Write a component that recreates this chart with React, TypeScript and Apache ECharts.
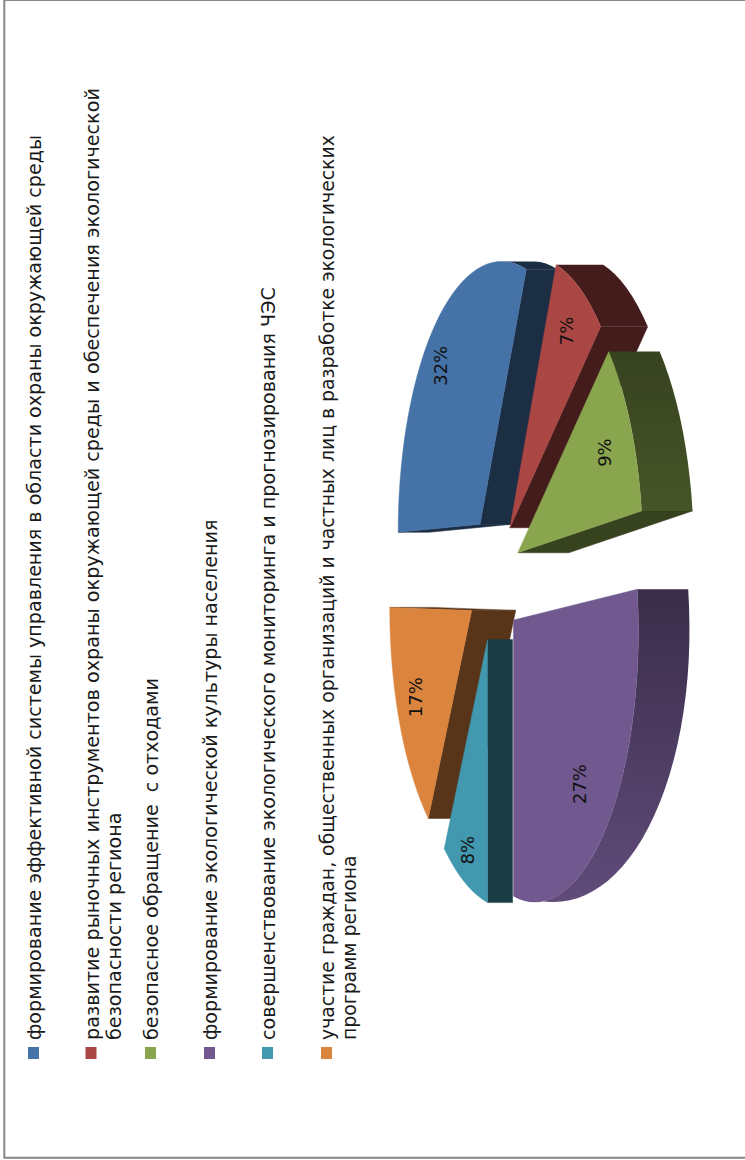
import React, { useEffect, useRef } from "react";
import * as echarts from "echarts";

// ---- data ----
const sliceNames = [
  "формирование эффективной системы управления в области охраны окружающей среды",
  "развитие рыночных инструментов охраны окружающей среды и обеспечения экологической\nбезопасности региона",
  "безопасное обращение  с отходами",
  "формирование экологической культуры населения",
  "совершенствование экологического мониторинга и прогнозирования ЧЭС",
  "участие граждан, общественных организаций и частных лиц в разработке экологических\nпрограмм региона",
];
const sliceValues = [32, 7, 9, 27, 8, 17];

// ---- styles ----
const sliceColors = ["#4572A7", "#AA4643", "#89A54E", "#71588F", "#4198AF", "#DB843D"];
const sliceThickness = [31, 47, 51, 51, 25, 44];
const sliceArcShift = [8, 0, 0, 11, -2, -3];
const sliceLabelRadius = [0.82, 0.82, 0.77, 0.75, 0.87, 0.78];
const legendColumns = [33.5, 91, 150.5, 209.5, 267.5, 326.5];
const legendFontSizes = [19.1, 19.2, 19.1, 19.1, 19.1, 18.83];

const FONT = "DejaVu Sans";
const W = 745;
const H = 1160;

// projection of the rotated, perspective 3D pie
const CX = 494;
const CY = 578;
const RX = 99;
const RY = 265;
const PERSP = 0.208;
const EXPLODE_X = 0.262;
const EXPLODE_Y = 0.24;
const TOTAL = sliceValues.reduce((a, b) => a + b, 0);

function shade(hex: string, f: number) {
  const n = parseInt(hex.slice(1), 16);
  const c = [(n >> 16) & 255, (n >> 8) & 255, n & 255].map((v) => Math.round(v * f));
  return `rgb(${c[0]},${c[1]},${c[2]})`;
}

function arcShade(deg: number) {
  if (deg <= 140) return 0.4;
  if (deg <= 175) return 0.4 + ((deg - 140) / 35) * 0.12;
  if (deg <= 270) return 0.55 + ((deg - 175) / 95) * 0.3;
  return 0.45;
}

function renderSlice(params: any, api: any) {
  const i = params.dataIndex;
  const value = api.value(0);
  let before = 0;
  for (let k = 0; k < i; k++) before += sliceValues[k];
  const a0 = (before / TOTAL) * 2 * Math.PI;
  const a1 = ((before + value) / TOTAL) * 2 * Math.PI;
  const mid = (a0 + a1) / 2;
  const ax = CX - EXPLODE_X * RX * Math.cos(mid);
  const ay = CY - EXPLODE_Y * RY * Math.sin(mid);
  const project = (a: number, f: number) => {
    const v = -Math.cos(a);
    const u = Math.sin(a);
    const s = 1 / (1 - PERSP * v);
    return [ax + RX * v * s * f, ay - RY * u * s * f + sliceArcShift[i] * f];
  };
  const color = sliceColors[i];
  const depth = sliceThickness[i];
  const z0 = Math.round((-Math.cos(mid) + 1) * 100) * 10;
  const depthAt = (a: number) =>
    a > Math.PI ? depth * (0.2 + 0.8 * Math.max(0, -Math.cos(a))) : depth;

  const steps = Math.max(6, Math.round(((a1 - a0) * 180) / Math.PI / 3));
  const arc: number[][] = [];
  const angles: number[] = [];
  for (let k = 0; k <= steps; k++) {
    const a = a0 + ((a1 - a0) * k) / steps;
    angles.push(a);
    arc.push(project(a, 1));
  }
  const apex = [ax, ay];
  const children: any[] = [];

  // a radial wall is seen only when the sweep direction leaves the wedge through it
  const radialSeen = (end: number[], inner: number[]) => {
    const ex = end[0] - apex[0];
    const ey = end[1] - apex[1];
    let nx = ey;
    let ny = -ex;
    if (nx * (inner[0] - apex[0]) + ny * (inner[1] - apex[1]) > 0) {
      nx = -nx;
      ny = -ny;
    }
    return nx > 0;
  };
  const radialFill = shade(color, 0.4);
  const wall = (end: number[]) => ({
    type: "polygon",
    z2: z0 + 1,
    shape: {
      points: [apex, end, [end[0] + depth, end[1]], [apex[0] + depth, apex[1]]],
    },
    style: { fill: radialFill, stroke: radialFill, lineWidth: 0.5 },
  });
  if (radialSeen(arc[0], arc[steps])) children.push(wall(arc[0]));
  if (radialSeen(arc[steps], arc[0])) children.push(wall(arc[steps]));

  // outer wall: the stretch of the rim that faces the sweep direction
  const seen: number[] = [];
  angles.forEach((a, k) => {
    if (Math.sin(a) < 0.98 && -Math.cos(a) > -0.05 && a > Math.PI / 2 - 0.01 && a < (3 * Math.PI) / 2 + 0.01) seen.push(k);
  });
  if (seen.length > 1) {
    const front = seen.map((k) => arc[k]);
    const back = seen.map((k) => [arc[k][0] + depthAt(angles[k]), arc[k][1]]).reverse();
    const c0 = shade(color, arcShade((angles[seen[0]] * 180) / Math.PI));
    const c1 = shade(color, arcShade((angles[seen[seen.length - 1]] * 180) / Math.PI));
    children.push({
      type: "polygon",
      z2: z0 + 2,
      shape: { points: [...front, ...back] },
      style: {
        fill: new echarts.graphic.LinearGradient(0, 0, 0, 1, [
          { offset: 0, color: c0 },
          { offset: 1, color: c1 },
        ]),
      },
    });
  }
  children.push({
    type: "polygon",
    z2: z0 + 3,
    shape: { points: [apex, ...arc] },
    style: { fill: color, stroke: color, lineWidth: 0.4 },
  });
  const lp = project(mid, sliceLabelRadius[i]);
  children.push({
    type: "text",
    z2: 5000,
    x: lp[0],
    y: lp[1],
    rotation: Math.PI / 2,
    style: {
      text: `${Math.round((value / TOTAL) * 100)}%`,
      fontFamily: FONT,
      fontSize: 18,
      fill: "#111",
      align: "center",
      verticalAlign: "middle",
    },
  });
  return { type: "group", children };
}

function legendGraphics() {
  const out: any[] = [];
  sliceNames.forEach((name, i) => {
    const x = legendColumns[i];
    out.push({
      type: "rect",
      shape: { x: x - 5.5, y: 1047, width: 11, height: 12 },
      style: { fill: sliceColors[i] },
    });
    name.split("\n").forEach((line, j) => {
      out.push({
        type: "text",
        x: x + 1.2 + j * 22,
        y: 1040,
        rotation: Math.PI / 2,
        style: {
          text: line,
          fontFamily: FONT,
          fontSize: legendFontSizes[i],
          fill: "#1a1a1a",
          align: "left",
          verticalAlign: "middle",
        },
      });
    });
  });
  return out;
}

export default function App() {
  const ref = useRef<HTMLDivElement>(null);
  useEffect(() => {
    const chart = echarts.init(ref.current!, undefined, { renderer: "svg" });
    chart.setOption({
      animation: false,
      backgroundColor: "#ffffff",
      graphic: [
        {
          type: "rect",
          shape: { x: 4.3, y: 0, width: 800, height: 1157.7 },
          style: { fill: "none", stroke: "#868686", lineWidth: 2 },
        },
        ...legendGraphics(),
      ],
      series: [
        {
          type: "custom",
          coordinateSystem: "none",
          silent: true,
          renderItem: renderSlice,
          data: sliceValues.map((v, i) => ({ name: sliceNames[i], value: [v] })),
        },
      ],
    });
    return () => chart.dispose();
  }, []);
  return <div ref={ref} style={{ position: "fixed", left: 0, top: 0, width: W, height: H }} />;
}
